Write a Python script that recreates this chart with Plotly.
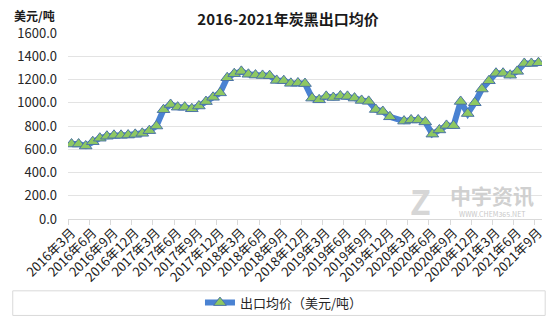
import plotly.graph_objects as go

# Monthly carbon black export average price, Mar 2016 - Sep 2021 (USD/t)
months = []
for y in range(2016, 2022):
    for m in range(1, 13):
        if (y == 2016 and m < 3) or (y == 2021 and m > 9):
            continue
        months.append(f"{y}年{m}月")

prices = [
    645, 645, 628, 665, 695, 712, 720, 720, 722, 728,   # 2016-3 .. 2016-12
    737, 760, 800, 940, 985, 962, 962, 948, 972, 1010, 1047, 1085,  # 2017
    1215, 1250, 1270, 1245, 1238, 1235, 1233, 1192, 1190, 1167, 1170, 1165,  # 2018
    1040, 1025, 1055, 1045, 1058, 1055, 1040, 1020, 1012, 942, 925, 879,  # 2019
    None, 842, 852, 852, 835, 730, 766, 805, 803, 1011, 907, 1000,  # 2020
    1118, 1189, 1254, 1254, 1237, 1270, 1338, 1338, 1344,  # 2021-1 .. 2021-9
]

series_name = "出口均价（美元/吨）"
title_text = "2016-2021年炭黑出口均价"
unit_text = "美元/吨"

W, H = 557, 330
L, R, T, B = 68.2, 541.8, 33.0, 222.0
FONT = "Microsoft YaHei, Noto Sans CJK SC, sans-serif"


def px(x):
    return (x - L) / (R - L)


def py(y):
    return (B - y) / (B - T)


idx = list(range(len(months)))
tick_idx = idx[::3]
tick_txt = [months[i] for i in tick_idx]

fig = go.Figure()
fig.add_trace(go.Scatter(
    x=idx, y=prices, name=series_name, mode="lines+markers",
    connectgaps=True,
    line=dict(color="#4A82D2", width=6),
    marker=dict(symbol="triangle-up", size=11, color="#8EC862",
                line=dict(color="#4C74A6", width=1)),
))

fig.update_layout(
    width=W, height=H, autosize=False,
    margin=dict(l=L, r=W - R, t=T, b=H - B),
    paper_bgcolor="white", plot_bgcolor="white",
    font=dict(family=FONT, color="#262626", size=12),
    title=dict(text=f"<b>{title_text}</b>", x=288 / W, xanchor="center",
               y=1 - 20 / H, yanchor="middle",
               font=dict(size=15, color="#1a1a1a", family=FONT)),
    showlegend=True,
    legend=dict(orientation="h", x=px(284), xanchor="center",
                y=py(307), yanchor="middle", bgcolor="rgba(0,0,0,0)",
                font=dict(size=13, color="#262626", family=FONT),
                itemwidth=30),
    xaxis=dict(range=[-0.5, len(months) - 0.5], tickmode="array",
               tickvals=tick_idx, ticktext=tick_txt, tickangle=-45,
               tickfont=dict(size=13, color="#1a1a1a", family=FONT),
               showgrid=False, zeroline=False, showline=True,
               linecolor="#D9D9D9", linewidth=1, ticks="",
               minor=dict(tick0=-0.5, dtick=3, ticks="outside", ticklen=5,
                          tickcolor="#D9D9D9", showgrid=False)),
    yaxis=dict(range=[0, 1600], dtick=200, tickformat=".1f",
               tickfont=dict(size=13, color="#262626", family=FONT),
               showgrid=True, gridcolor="#E3E3E3", gridwidth=1,
               zeroline=False, showline=False, ticks="",
               ticklabelstandoff=10),
)

# legend frame spanning the chart width
fig.add_shape(type="rect", xref="paper", yref="paper",
              x0=px(13), x1=px(545), y0=py(295), y1=py(320),
              line=dict(color="#D9D9D9", width=1), fillcolor="rgba(0,0,0,0)",
              layer="below")


def note(text, x, y, size, color):
    fig.add_annotation(text=text, xref="paper", yref="paper",
                       x=px(x), y=py(y), xanchor="center", yanchor="middle",
                       showarrow=False,
                       font=dict(size=size, color=color, family=FONT))


# unit label above the value axis
note(f"<b>{unit_text}</b>", 35, 15, 12, "#1a1a1a")

# faint publisher mark inside the plot
note("<b>Z</b>", 420, 203, 34, "#D6D6D6")
note("<b>中宇资讯</b>", 492, 198, 21, "#D0D0D0")
note("WWW.CHEM365.NET", 492, 217, 7, "#C8C8C8")

fig.write_html("out.html")
